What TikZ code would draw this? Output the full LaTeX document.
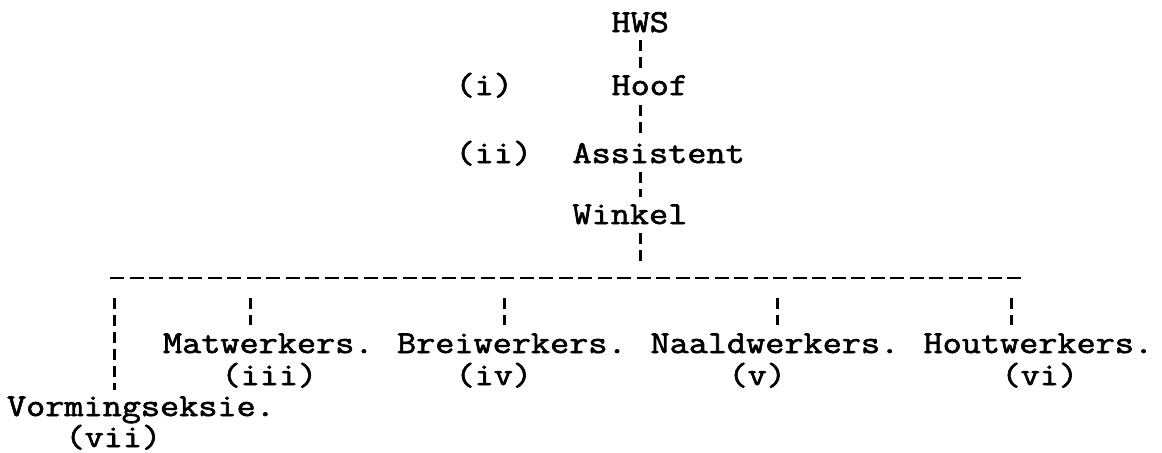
\documentclass[tikz,border=0pt]{standalone}
\usepackage{fontspec}
\newfontfamily\twfont{Latin Modern Mono}[FakeStretch=1.161,FakeBold=2]
\begin{document}
\begin{tikzpicture}[x=0.5pt,y=-0.5pt,
  txt/.style={anchor=base west,inner sep=0pt,outer sep=0pt,text height=9pt,text depth=2pt,
    font=\twfont\fontsize{16pt}{19pt}\selectfont},
  vline/.style={line width=1.3pt,dash pattern=on 5.5pt off 3pt},
  hline/.style={line width=1.3pt,dash pattern=on 7pt off 2.75pt}]
\useasboundingbox (0,0) rectangle (1162,452);
% top chain
\node[txt] (hws) at (611.5,32) {HWS};
\node[txt] (hoof) at (611.5,95) {Hoof};
\node[txt] (lab1) at (455.5,95) {(i)};
\node[txt] (asst) at (572.5,163) {Assistent};
\node[txt] (lab2) at (455.5,163) {(ii)};
\node[txt] (wink) at (572.5,224) {Winkel};
% bottom row
\node[txt] (mat) at (163,353) {Matwerkers.};
\node[txt] (brei) at (397,353) {Breiwerkers.};
\node[txt] (naald) at (650.5,353) {Naaldwerkers.};
\node[txt] (hout) at (923.5,353) {Houtwerkers.};
\node[txt] (lab3) at (221.5,385) {(iii)};
\node[txt] (lab4) at (455.5,385) {(iv)};
\node[txt] (lab5) at (728.5,385) {(v)};
\node[txt] (lab6) at (1001.5,385) {(vi)};
\node[txt] (vorm) at (7,416) {Vormingseksie.};
\node[txt] (lab7) at (65.5,447) {(vii)};
% horizontal line coordinates
\coordinate (hl) at (110,278);
\coordinate (hr) at (1021,278);
\coordinate (hmain) at (640.75,278);
\coordinate (h0) at (114.25,278);
\coordinate (h1) at (250.75,278);
\coordinate (h2) at (504.25,278);
\coordinate (h3) at (777.25,278);
\coordinate (h4) at (1011.25,278);
% connectors
\draw[vline,shorten <=2pt,shorten >=3.5pt] (hws.south -| hmain) -- (hoof.north -| hmain);
\draw[vline,shorten <=3pt,shorten >=4.5pt] (hoof.south -| hmain) -- (asst.north -| hmain);
\draw[vline,shorten <=2.5pt,shorten >=4.5pt] (asst.south -| hmain) -- (wink.north -| hmain);
\draw[vline,shorten <=2.5pt,shorten >=8pt] (wink.south -| hmain) -- (hmain);
\draw[hline] (hl) -- (hr);
\draw[vline,shorten <=10pt,shorten >=4pt] (h0) -- (vorm.north -| h0);
\draw[vline,shorten <=10pt,shorten >=5pt] (h1) -- (mat.north -| h1);
\draw[vline,shorten <=10pt,shorten >=5pt] (h2) -- (brei.north -| h2);
\draw[vline,shorten <=10pt,shorten >=5pt] (h3) -- (naald.north -| h3);
\draw[vline,shorten <=10pt,shorten >=5pt] (h4) -- (hout.north -| h4);
\end{tikzpicture}
\end{document}
